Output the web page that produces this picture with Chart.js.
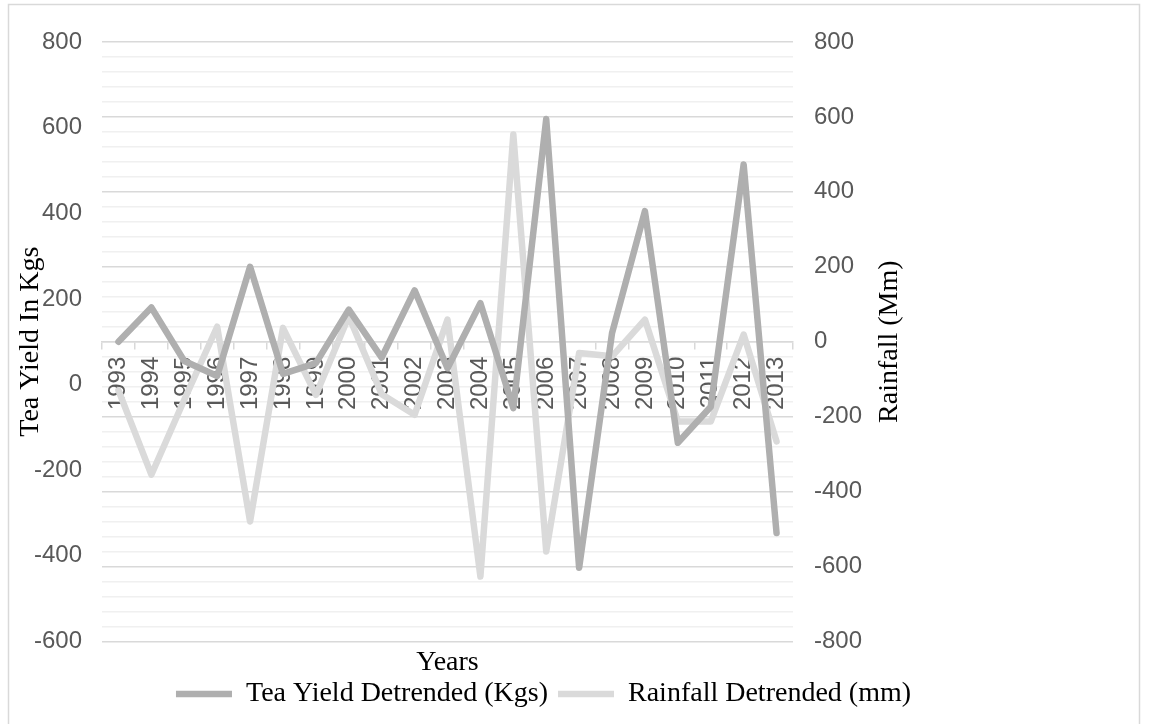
<!DOCTYPE html>
<html>
<head>
<meta charset="utf-8">
<script src="https://cdn.jsdelivr.net/npm/chart.js@4.4.1/dist/chart.umd.min.js"></script>
<style>
  html, body { margin: 0; padding: 0; background: #fff; }
  #wrap { position: relative; width: 1149px; height: 724px; }
</style>
</head>
<body>
<div id="wrap"><canvas id="teaChart" width="1149" height="724"></canvas></div>
<script>
// detrended series, one value per year
const years = ['1993', '1994', '1995', '1996', '1997', '1998', '1999', '2000', '2001', '2002', '2003',
               '2004', '2005', '2006', '2007', '2008', '2009', '2010', '2011', '2012', '2013'];
const teaYield = [100, 180, 55, 20, 275, 25, 50, 175, 63, 220, 38, 190, -55, 620, -428, 120, 405, -136, -52, 514, -347];
const rainfall = [-130, -355, -155, 40, -480, 37, -142, 68, -140, -195, 59, -627, 553, -560, -30, -39, 59, -213, -213, 19, -266];

const sansFont = '"Liberation Sans", Arial, sans-serif';
const serifFont = '"Liberation Serif", "Times New Roman", serif';
const tickColor = '#595959';

// outer frame + rotated right axis title (reads bottom to top)
const framePlugin = {
    id: 'frame',
    beforeDraw(chart) {
        const ctx = chart.ctx;
        ctx.save();
        ctx.fillStyle = '#fff';
        ctx.fillRect(0, 0, chart.width, chart.height);
        ctx.strokeStyle = '#d9d9d9';
        ctx.lineWidth = 1.5;
        ctx.strokeRect(8.5, 4.5, 1131, 740);
        ctx.restore();
    },
    afterDraw(chart) {
        const ctx = chart.ctx;
        const area = chart.chartArea;
        ctx.save();
        ctx.translate(890, (area.top + area.bottom) / 2);
        ctx.rotate(-Math.PI / 2);
        ctx.font = '28px ' + serifFont;
        ctx.fillStyle = '#000';
        ctx.textAlign = 'center';
        ctx.textBaseline = 'middle';
        ctx.fillText('Rainfall (Mm)', 0, 0);
        ctx.restore();
    }
};

const ctx = document.getElementById('teaChart').getContext('2d');
const teaChart = new Chart(ctx, {
    type: 'line',
    data: {
        labels: years,
        datasets: [
            {
                label: 'Tea Yield Detrended (Kgs)',
                data: teaYield,
                yAxisID: 'y',
                xAxisID: 'x',
                borderColor: '#afafaf',
                backgroundColor: '#afafaf',
                borderWidth: 6.5,
                borderCapStyle: 'round',
                borderJoinStyle: 'round',
                pointRadius: 0,
                tension: 0
            },
            {
                label: 'Rainfall Detrended (mm)',
                data: rainfall,
                yAxisID: 'y1',
                xAxisID: 'x',
                borderColor: '#dadada',
                backgroundColor: '#dadada',
                borderWidth: 6.5,
                borderCapStyle: 'round',
                borderJoinStyle: 'round',
                pointRadius: 0,
                tension: 0
            }
        ]
    },
    options: {
        responsive: false,
        animation: false,
        layout: {
            padding: { left: 13, right: 75, top: 42, bottom: 6 }
        },
        plugins: {
            legend: {
                position: 'bottom',
                labels: {
                    color: '#000',
                    font: { family: serifFont, size: 28 },
                    usePointStyle: true,
                    pointStyle: 'line',
                    pointStyleWidth: 56,
                    padding: 10
                }
            },
            tooltip: { enabled: false }
        },
        scales: {
            // year labels sit on the rainfall zero line
            x: {
                type: 'category',
                position: { y1: 0 },
                offset: true,
                z: 1,
                grid: {
                    offset: true,
                    drawOnChartArea: false,
                    drawTicks: true,
                    tickLength: 7,
                    color: '#d9d9d9',
                    lineWidth: 1.5
                },
                border: { display: true, color: '#d9d9d9', width: 1.5 },
                ticks: {
                    minRotation: 90,
                    maxRotation: 90,
                    autoSkip: false,
                    padding: 8,
                    color: tickColor,
                    font: { family: sansFont, size: 24 }
                }
            },
            // only carries the "Years" caption under the plot
            xTitle: {
                type: 'category',
                labels: years,
                position: 'bottom',
                grid: { display: false, drawTicks: false },
                border: { display: false },
                ticks: { display: false },
                title: {
                    display: true,
                    text: 'Years',
                    color: '#000',
                    font: { family: serifFont, size: 28 },
                    padding: { top: 4, bottom: -9 }
                }
            },
            y: {
                position: 'left',
                min: -600,
                max: 800,
                grid: { display: false, drawTicks: false },
                border: { display: false },
                ticks: {
                    stepSize: 200,
                    padding: 20,
                    color: tickColor,
                    font: { family: sansFont, size: 24 }
                },
                title: {
                    display: true,
                    text: 'Tea Yield In Kgs',
                    color: '#000',
                    font: { family: serifFont, size: 28 },
                    padding: { top: 1, bottom: 0 }
                },
                afterFit(scale) { scale.width = 89; }
            },
            y1: {
                position: 'right',
                min: -800,
                max: 800,
                border: { display: false },
                grid: {
                    drawOnChartArea: true,
                    drawTicks: false,
                    lineWidth: 1.5,
                    color: (c) => (c.tick && Math.round(c.tick.value) % 200 === 0) ? '#d9d9d9' : '#f0f0f0'
                },
                ticks: {
                    stepSize: 40,
                    autoSkip: false,
                    padding: 21,
                    color: tickColor,
                    font: { family: sansFont, size: 24 },
                    callback: (v) => (Math.round(v) % 200 === 0) ? String(Math.round(v)) : ''
                },
                afterFit(scale) { scale.width = 281; }
            }
        }
    },
    plugins: [framePlugin]
});
</script>
</body>
</html>
